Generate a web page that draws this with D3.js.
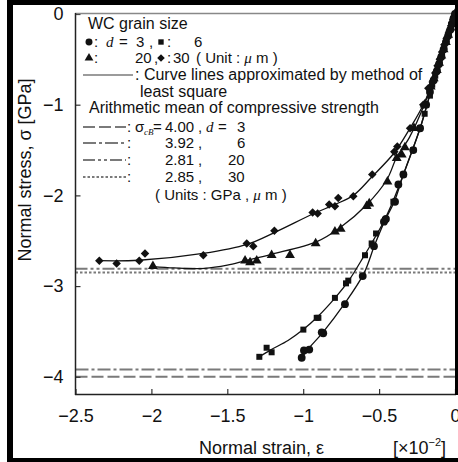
<!DOCTYPE html>
<html>
<head>
<meta charset="utf-8">
<script src="https://cdn.jsdelivr.net/npm/d3@7"></script>
<style>
  body { margin: 0; background: #fff; }
  svg { display: block; font-family: "Liberation Sans", Arial, sans-serif; }
</style>
</head>
<body>
<svg id="chart" width="458" height="462"></svg>
<script>
// Ticks
var xTicks = [-2.5, -2, -1.5, -1, -0.5, 0];
var yTicks = [0, -1, -2, -3, -4];

// Mean compressive strength (GPa, negative = compression) per grain size
var grainSizes = [3, 6, 20, 30];
var meanStrength = [-4.00, -3.92, -2.81, -2.85];

// Measured points [strain x1e-2, stress GPa]
var d3Points = [
  [0, 0], [-0.01, -0.05], [-0.02, -0.11], [-0.03, -0.17], [-0.045, -0.24], [-0.06, -0.31],
  [-0.075, -0.39], [-0.09, -0.47], [-0.105, -0.55], [-0.12, -0.63], [-0.14, -0.73],
  [-0.165, -0.86], [-0.19, -1.0], [-0.23, -1.26], [-0.275, -1.5], [-0.34, -1.77],
  [-0.373, -1.88], [-0.395, -2.07], [-0.455, -2.26], [-0.468, -2.29], [-0.534, -2.56],
  [-0.608, -2.89], [-0.725, -3.2], [-0.868, -3.52], [-0.878, -3.51], [-0.96, -3.7],
  [-0.995, -3.71], [-1.01, -3.79]
];
var d6Points = [
  [0, 0], [-0.012, -0.06], [-0.025, -0.13], [-0.04, -0.21], [-0.055, -0.28], [-0.07, -0.36],
  [-0.085, -0.44], [-0.1, -0.52], [-0.115, -0.6], [-0.13, -0.68], [-0.15, -0.78],
  [-0.165, -0.9], [-0.2, -1.1], [-0.23, -1.26], [-0.275, -1.5], [-0.34, -1.77],
  [-0.406, -2.07], [-0.461, -2.27], [-0.52, -2.42], [-0.549, -2.53], [-0.593, -2.66],
  [-0.703, -2.94], [-0.718, -2.97], [-0.791, -3.13], [-0.9, -3.35], [-0.911, -3.35],
  [-0.999, -3.48], [-1.208, -3.73], [-1.241, -3.68], [-1.289, -3.78]
];
var d20Points = [
  [0, 0], [-0.015, -0.07], [-0.03, -0.15], [-0.045, -0.23], [-0.06, -0.31], [-0.075, -0.39],
  [-0.09, -0.46], [-0.105, -0.54], [-0.12, -0.62], [-0.14, -0.71], [-0.16, -0.8],
  [-0.2, -1.0], [-0.27, -1.26], [-0.33, -1.47], [-0.351, -1.55], [-0.384, -1.59],
  [-0.445, -1.85], [-0.565, -2.09], [-0.582, -2.12], [-0.753, -2.37], [-0.791, -2.4],
  [-0.918, -2.53], [-1.087, -2.66], [-1.208, -2.66], [-1.306, -2.72], [-1.35, -2.74],
  [-1.383, -2.72], [-1.99, -2.78]
];
var d30Points = [
  [0, 0], [-0.012, -0.06], [-0.025, -0.13], [-0.04, -0.2], [-0.055, -0.27], [-0.07, -0.34],
  [-0.085, -0.42], [-0.1, -0.5], [-0.115, -0.57], [-0.13, -0.65], [-0.147, -0.75],
  [-0.176, -0.82], [-0.209, -1.0], [-0.296, -1.26], [-0.38, -1.46], [-0.4, -1.52],
  [-0.545, -1.77], [-0.67, -2.01], [-0.769, -2.03], [-0.791, -2.12], [-0.829, -2.1],
  [-0.905, -2.2], [-0.938, -2.19], [-1.19, -2.39], [-1.329, -2.56], [-1.372, -2.53],
  [-1.658, -2.66], [-2.042, -2.64], [-2.08, -2.72], [-2.229, -2.75], [-2.343, -2.72]
];

// Least-square curves
var d3Fit = [
  [0, 0], [-0.15, -0.8], [-0.23, -1.26], [-0.34, -1.77], [-0.4, -2.07], [-0.46, -2.27],
  [-0.53, -2.55], [-0.6, -2.86], [-0.73, -3.2], [-0.87, -3.51], [-0.96, -3.68], [-1.01, -3.79]
];
var d6Fit = [
  [0, 0], [-0.15, -0.8], [-0.23, -1.26], [-0.34, -1.77], [-0.41, -2.07], [-0.47, -2.29],
  [-0.55, -2.53], [-0.6, -2.67], [-0.7, -2.94], [-0.79, -3.13], [-0.9, -3.33], [-1.0, -3.48],
  [-1.1, -3.6], [-1.21, -3.7], [-1.29, -3.78]
];
var d20Fit = [
  [0, 0], [-0.1, -0.52], [-0.2, -0.99], [-0.3, -1.36], [-0.384, -1.58], [-0.45, -1.83],
  [-0.58, -2.1], [-0.76, -2.36], [-0.91, -2.51], [-1.21, -2.65], [-1.38, -2.72],
  [-1.5, -2.77], [-1.65, -2.805], [-1.85, -2.8], [-1.99, -2.785]
];
var d30Fit = [
  [0, 0], [-0.1, -0.52], [-0.2, -0.97], [-0.3, -1.27], [-0.4, -1.53], [-0.55, -1.8],
  [-0.67, -2.0], [-0.79, -2.1], [-0.93, -2.2], [-1.19, -2.41], [-1.37, -2.54],
  [-1.66, -2.64], [-2.08, -2.715], [-2.343, -2.72]
];

var svg = d3.select('#chart');
var x = d3.scaleLinear().domain([-2.5, 0]).range([75.5, 455]);
var y = d3.scaleLinear().domain([-4.19, 0]).range([394, 14]);

var gray = '#7a7a7a';
var ink = '#111';
var refDash = ['12,4', '13,3,3,3', '12,3,3,3,3,3', '2.5,2'];

// mean strength reference lines
svg.append('g').selectAll('line')
  .data(meanStrength)
  .enter().append('line')
  .attr('x1', x(-2.5)).attr('x2', x(0))
  .attr('y1', function(d) { return y(d); })
  .attr('y2', function(d) { return y(d); })
  .attr('stroke', gray)
  .attr('stroke-width', 2)
  .attr('stroke-dasharray', function(d, i) { return refDash[i]; });

// axes, ticks pointing inward
var yAxis = svg.append('g').attr('transform', 'translate(' + x(-2.5) + ',0)')
  .call(d3.axisLeft(y).tickValues(yTicks).tickSize(-5).tickPadding(12)
    .tickFormat(function(d) { return d === 0 ? '0' : d3.format('')(d); }));
var xAxis = svg.append('g').attr('transform', 'translate(0,' + y.range()[0] + ')')
  .call(d3.axisBottom(x).tickValues(xTicks).tickSize(-5).tickPadding(15)
    .tickFormat(function(d) { return d === 0 ? '0' : d3.format('')(d); }));
[yAxis, xAxis].forEach(function(a) {
  a.select('.domain').remove();
  a.selectAll('text').attr('font-size', 18).attr('fill', ink)
    .attr('font-family', '"Liberation Sans", Arial, sans-serif');
  a.selectAll('line').attr('stroke', '#333').attr('stroke-width', 1.2);
});

// frame
svg.append('line').attr('x1', 75).attr('x2', 455).attr('y1', 13.5).attr('y2', 13.5)
  .attr('stroke', '#888').attr('stroke-width', 1.5);
svg.append('line').attr('x1', 75.5).attr('x2', 75.5).attr('y1', 13).attr('y2', 395)
  .attr('stroke', '#222').attr('stroke-width', 1.5);
svg.append('line').attr('x1', 75).attr('x2', 456).attr('y1', 394.5).attr('y2', 394.5)
  .attr('stroke', '#222').attr('stroke-width', 1.5);

// fitted curves
var line = d3.line()
  .x(function(d) { return x(d[0]); })
  .y(function(d) { return y(d[1]); })
  .curve(d3.curveCatmullRom.alpha(0.5));
var fits = [d3Fit, d6Fit, d20Fit, d30Fit];
svg.append('g').selectAll('path')
  .data(fits)
  .enter().append('path')
  .attr('d', line)
  .attr('fill', 'none')
  .attr('stroke', ink)
  .attr('stroke-width', 1.3);

// markers
var symbols = [
  { type: d3.symbolCircle, size: 48, rot: 0 },
  { type: d3.symbolSquare, size: 36, rot: 0 },
  { type: d3.symbolTriangle, size: 42, rot: 0 },
  { type: d3.symbolSquare, size: 36, rot: 45 }
];
var pointSets = [d3Points, d6Points, d20Points, d30Points];
pointSets.forEach(function(pts, i) {
  var s = symbols[i];
  svg.append('g').selectAll('path')
    .data(pts)
    .enter().append('path')
    .attr('d', d3.symbol().type(s.type).size(s.size))
    .attr('transform', function(d) {
      return 'translate(' + x(d[0]) + ',' + y(d[1]) + ') rotate(' + s.rot + ')';
    })
    .attr('fill', ink);
});

// legend
var leg = svg.append('g').attr('font-size', 16).attr('fill', ink);
function txt(tx, ty, s, serif, fs) {
  var t = leg.append('text').attr('x', tx).attr('y', ty).text(s);
  if (fs) t.attr('font-size', fs);
  if (serif) t.attr('font-family', '"Liberation Serif", "DejaVu Serif", serif').attr('font-style', 'italic');
  return t;
}
function tok(tx, ty, s, serif) { return txt(tx, ty, s, serif, 15); }
function mark(i, mx, my) {
  var s = symbols[i];
  leg.append('path').attr('d', d3.symbol().type(s.type).size(s.size * 0.8))
    .attr('transform', 'translate(' + mx + ',' + my + ') rotate(' + s.rot + ')');
}
function sample(sy, dash) {
  leg.append('line').attr('x1', 83).attr('x2', 126).attr('y1', sy).attr('y2', sy)
    .attr('stroke', gray).attr('stroke-width', 2).attr('stroke-dasharray', dash);
}

txt(88, 29, 'WC grain size');
mark(0, 89, 42); tok(94, 47, ':'); tok(106, 47, 'd', true); tok(119, 47, '=');
tok(136, 47, String(grainSizes[0])); tok(149, 47, ',');
mark(1, 161, 42); tok(167, 47, ':'); tok(194, 47, String(grainSizes[1]));
mark(2, 89, 58); tok(94, 63, ':'); tok(135, 63, String(grainSizes[2])); tok(154, 63, ',');
mark(3, 161, 58); tok(167, 63, ':'); tok(173, 63, String(grainSizes[3]));
var u = tok(196, 63, '( Unit : ');
u.append('tspan').attr('font-family', '"Liberation Serif", serif').attr('font-style', 'italic').text('μ');
u.append('tspan').text(' m )');

leg.append('line').attr('x1', 83).attr('x2', 133).attr('y1', 75).attr('y2', 75)
  .attr('stroke', gray).attr('stroke-width', 1.5);
txt(135, 80, ': Curve lines approximated by method of');
txt(140, 97, 'least square');
txt(89, 113, 'Arithmetic mean of compressive strength');

var legY = [132, 148, 165, 182];
meanStrength.forEach(function(v, i) {
  var by = legY[i];
  sample(by - 5, refDash[i]);
  tok(127, by, ':');
  tok(165, by, d3.format('.2f')(-v));
  tok(198, by, ',');
  tok(grainSizes[i] < 10 ? 237 : 228, by, String(grainSizes[i]));
});
tok(135, 132, 'σ');
leg.append('text').attr('x', 144).attr('y', 135).attr('font-size', 9)
  .attr('font-family', '"Liberation Serif", serif').attr('font-style', 'italic').text('cB');
tok(153, 132, '=');
tok(206, 132, 'd', true);
tok(218, 132, '=');
var uu = tok(155, 200, '( Units : GPa , ');
uu.append('tspan').attr('font-family', '"Liberation Serif", serif').attr('font-style', 'italic').text('μ');
uu.append('tspan').text(' m )');

// axis titles
svg.append('text').attr('x', 199).attr('y', 454).attr('font-size', 18).attr('fill', ink)
  .text('Normal strain,  ε');
var unit = svg.append('text').attr('x', 393).attr('y', 454).attr('font-size', 18).attr('fill', ink)
  .text('[×10');
unit.append('tspan').attr('font-size', 11).attr('dy', -8).text('−2');
unit.append('tspan').attr('dy', 8).text(']');
svg.append('text').attr('transform', 'translate(31,170) rotate(-90)')
  .attr('text-anchor', 'middle').attr('font-size', 18).attr('fill', ink)
  .text('Normal stress,  σ [GPa]');

// black page borders
svg.append('rect').attr('x', 7).attr('y', 0).attr('width', 451).attr('height', 5).attr('fill', '#000');
svg.append('rect').attr('x', 7).attr('y', 0).attr('width', 6).attr('height', 462).attr('fill', '#000');
svg.append('rect').attr('x', 7).attr('y', 458).attr('width', 451).attr('height', 4).attr('fill', '#000');
svg.append('rect').attr('x', 455).attr('y', 5).attr('width', 3).attr('height', 390).attr('fill', '#000');
</script>
</body>
</html>
